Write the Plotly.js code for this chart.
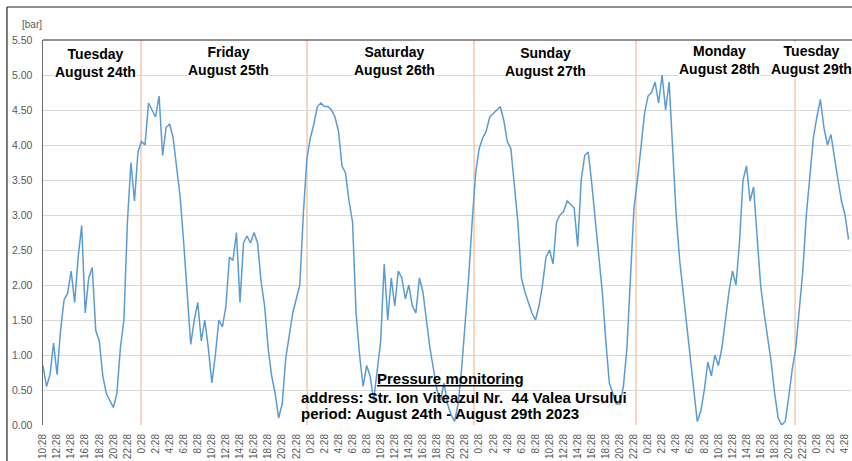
<!DOCTYPE html>
<html><head><meta charset="utf-8">
<script src="https://cdn.plot.ly/plotly-3.0.1.min.js"></script>
<style>html,body{margin:0;padding:0;background:#fff;}#chart{width:852px;height:461px;}</style>
</head><body><div id="chart"></div>
<script>
// Pressure samples every 0.5 h starting Aug 24, 10:28
const sampleStepHours = 0.5;
const pressure = [
0.85,0.55,0.72,1.17,0.72,1.36,1.79,1.88,2.2,1.75,
2.4,2.85,1.6,2.1,2.25,1.35,1.2,0.7,0.45,0.35,
0.25,0.45,1.1,1.5,2.9,3.75,3.2,3.9,4.05,4.0,
4.6,4.5,4.4,4.7,3.85,4.25,4.3,4.1,3.7,3.25,
2.6,1.9,1.15,1.5,1.75,1.2,1.5,1.1,0.6,1.0,
1.5,1.4,1.7,2.4,2.35,2.75,1.75,2.6,2.7,2.6,
2.75,2.6,2.05,1.7,1.1,0.7,0.45,0.1,0.3,0.95,
1.3,1.6,1.8,2.0,3.0,3.8,4.1,4.3,4.55,4.6,
4.55,4.55,4.5,4.4,4.2,3.7,3.6,3.2,2.9,1.6,
1.0,0.55,0.85,0.7,0.35,0.8,1.2,2.3,1.5,2.1,
1.7,2.2,2.1,1.8,2.0,1.7,1.6,2.1,1.9,1.5,
1.1,0.8,0.5,0.35,0.6,0.3,0.15,0.05,0.3,0.8,
1.4,2.1,2.9,3.6,3.95,4.1,4.2,4.4,4.45,4.5,
4.55,4.35,4.05,3.95,3.4,2.9,2.1,1.9,1.75,1.6,
1.5,1.7,2.0,2.4,2.5,2.3,2.9,3.0,3.05,3.2,
3.15,3.1,2.55,3.5,3.85,3.9,3.45,2.9,2.4,1.9,
1.2,0.6,0.45,0.3,0.3,0.55,1.1,2.1,3.1,3.5,
4.0,4.45,4.7,4.75,4.9,4.6,5.0,4.5,4.9,3.9,
3.0,2.35,1.9,1.45,0.95,0.5,0.05,0.2,0.5,0.9,
0.7,1.0,0.85,1.1,1.5,1.9,2.2,2.0,2.6,3.5,
3.7,3.2,3.4,2.7,2.0,1.6,1.25,0.9,0.45,0.1,
0.0,0.05,0.4,0.8,1.1,1.6,2.2,3.0,3.5,4.1,
4.4,4.65,4.25,4.0,4.15,3.8,3.5,3.2,3.0,2.65
];
const tickLabels = [
"10:28","12:28","14:28","16:28","18:28","20:28","22:28",
"0:28","2:28","4:28","6:28","8:28","10:28","12:28","14:28","16:28","18:28","20:28","22:28",
"0:28","2:28","4:28","6:28","8:28","10:28","12:28","14:28","16:28","18:28","20:28","22:28",
"0:28","2:28","4:28","6:28","8:28","10:28","12:28","14:28","16:28","18:28","20:28","22:28",
"0:28","2:28","4:28","6:28","8:28","10:28","12:28","14:28","16:28","18:28","20:28","22:28",
"0:28","2:28","4:28"
];
const tickStepHours = 2;
const yTicks = [0,0.5,1,1.5,2,2.5,3,3.5,4,4.5,5,5.5];
const dayBreaks = [13.93, 37.53, 61.27, 84.29, 106.9];
const dayNames = ["Tuesday","Friday","Saturday","Sunday","Monday","Tuesday"];
const dayDates = ["August 24th","August 25th","August 26th","August 27th","August 28th","August 29th"];
const dayLabelHours = [7.4, 26.3, 50.0, 71.4, 96.2, 109.3];
const dayLabelY = [0.941, 0.945, 0.946, 0.943, 0.948, 0.948];
const titleText = "Pressure monitoring";
const infoLines = ["address: Str. Ion Viteazul Nr.&nbsp; 44 Valea Ursului", "period: August 24th - August 29th 2023"];

const hours = pressure.map((_, i) => i * sampleStepHours);
const tickVals = tickLabels.map((_, i) => i * tickStepHours);
const FONT = 'Liberation Sans, Arial, sans-serif';

const shapes = dayBreaks.map(h => ({
  type:'line', xref:'x', yref:'paper', x0:h, x1:h, y0:0, y1:1,
  line:{color:'#f2b48c', width:1.1}, layer:'below'
}));
// outer frame
shapes.push({type:'line', xref:'paper', yref:'paper', x0:-0.0446, x1:1.02, y0:1.0857, y1:1.0857, line:{color:'#222', width:1.2}});
shapes.push({type:'line', xref:'paper', yref:'paper', x0:-0.0446, x1:-0.0446, y0:-0.12, y1:1.0857, line:{color:'#222', width:1.2}});
// plot top border
shapes.push({type:'line', xref:'paper', yref:'paper', x0:0, x1:1.01, y0:1, y1:1, line:{color:'#6b6b6b', width:1.5}});

const annotations = dayNames.map((n, i) => ({
  xref:'x', yref:'paper', x:dayLabelHours[i], y:dayLabelY[i],
  text:'<b>'+n+'<br>'+dayDates[i]+'</b>', showarrow:false,
  font:{family:FONT, size:14, color:'#000'},
  bgcolor:'#fff', borderpad:0, align:'center', yanchor:'middle'
}));
annotations.push({xref:'paper', yref:'paper', x:-0.0285, y:1.06, text:'[bar]', showarrow:false,
  font:{family:FONT, size:10, color:'#595959'}});
annotations.push({xref:'paper', yref:'paper', x:0.504, y:0.122, yanchor:'middle', text:'<b><u>'+titleText+'</u></b>', showarrow:false,
  font:{family:FONT, size:15, color:'#000'}});
annotations.push({xref:'paper', yref:'paper', x:0.317, y:0.0727, xanchor:'left', yanchor:'middle', align:'left',
  text:'<b>'+infoLines[0]+'</b>', showarrow:false, font:{family:FONT, size:15, color:'#000'}});
annotations.push({xref:'paper', yref:'paper', x:0.317, y:0.0286, xanchor:'left', yanchor:'middle', align:'left',
  text:'<b>'+infoLines[1]+'</b>', showarrow:false, font:{family:FONT, size:15, color:'#000'}});

const trace = {
  x: hours, y: pressure, type:'scatter', mode:'lines',
  line:{color:'#5b9bd5', width:1.5}, hoverinfo:'skip'
};

const layout = {
  width:852, height:461,
  margin:{l:43, r:1, t:40, b:36},
  paper_bgcolor:'#fff', plot_bgcolor:'#fff',
  showlegend:false,
  xaxis:{
    range:[0, 114.85], tickmode:'array', tickvals:tickVals, ticktext:tickLabels,
    tickangle:-90, tickfont:{family:FONT, size:10, color:'#595959'},
    showgrid:false, zeroline:false, showline:false, ticks:'outside', ticklen:4, tickcolor:'rgba(0,0,0,0)',
    fixedrange:true
  },
  yaxis:{
    range:[0,5.5], tickmode:'array', tickvals:yTicks, tickformat:'.2f',
    tickfont:{family:FONT, size:10.5, color:'#595959'},
    showgrid:true, gridcolor:'#d9d9d9', gridwidth:1, zeroline:false,
    showline:true, linecolor:'#6b6b6b', linewidth:1.5,
    ticks:'outside', ticklen:7, tickcolor:'rgba(0,0,0,0)', fixedrange:true
  },
  shapes: shapes,
  annotations: annotations
};
Plotly.newPlot('chart', [trace], layout, {displayModeBar:false, staticPlot:true});
</script>
</body></html>
